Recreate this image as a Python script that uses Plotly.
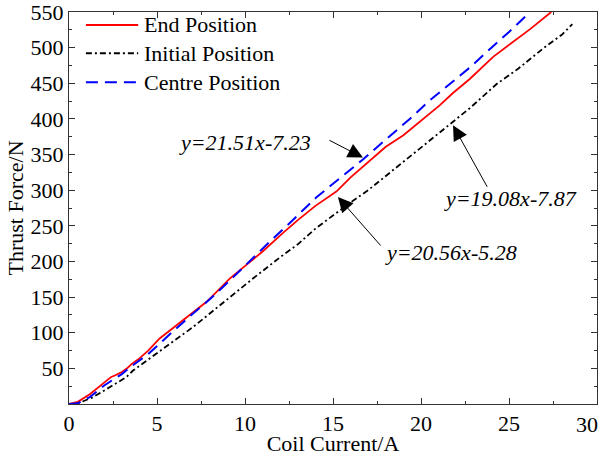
import plotly.graph_objects as go

# ---- data ----
end_x = [0, 0.5, 1.2, 2.0, 2.4, 2.6, 3.0, 3.3, 3.55, 4.0, 4.5, 5.15, 6.1, 7.05, 7.8, 8.5, 9.13,
         10.27, 11.0, 12.16, 13.0, 14.0, 15.19, 16.0, 17.27, 18.0, 19.0, 19.74, 20.5, 21.06,
         21.8, 22.77, 24.1, 25.2, 26.2, 27.4]
end_y = [0, 3, 14, 30, 38, 40, 45, 50, 56, 64, 75, 92, 110, 129, 143, 160, 176,
         199, 214, 240, 258, 278, 298, 318, 345, 361, 377, 392, 407, 419,
         436, 456, 487, 507, 526, 550]

init_x = [0, 0.42, 1.36, 2.31, 3.26, 3.64, 4.97, 6.0, 7.05, 8.0, 8.94, 10.45, 12.0, 13.0, 14.0,
          15.95, 17.0, 18.0, 19.0, 20.0, 21.0, 21.73, 22.77, 24.3, 25.5, 26.2, 27.0, 28.0, 28.6]
init_y = [0, 0, 9.5, 23.6, 37.7, 47, 70.5, 89, 108, 127, 146, 176, 206, 224, 246,
          282, 300, 320, 340, 360, 380, 395, 415, 449, 470, 484, 500, 518, 533]

cent_x = [0, 0.5, 1.2, 2.0, 3.0, 3.55, 4.5, 5.15, 6.0, 7.0, 8.0, 9.0, 10.27, 11.5, 12.5, 14.06,
          15.0, 16.7, 18.0, 19.36, 20.5, 22.0, 22.77, 24.0, 25.0, 26.2]
cent_y = [0, 1, 10, 26, 42, 53, 70, 85, 104, 126, 147, 170, 201, 230, 253, 290,
          309, 343, 371, 400, 426, 457, 472, 500, 522, 550]

x_ticks = [0, 5, 10, 15, 20, 25, 30]
y_ticks = [50, 100, 150, 200, 250, 300, 350, 400, 450, 500, 550]

FONT = "Liberation Serif, Times New Roman, serif"

fig = go.Figure()
fig.add_trace(go.Scatter(x=end_x, y=end_y, mode="lines", name="End Position",
                         line=dict(color="#ff0000", width=1.8), showlegend=False))
fig.add_trace(go.Scatter(x=init_x, y=init_y, mode="lines", name="Initial Position",
                         line=dict(color="#000000", width=1.8, dash="6px,3px,2px,3px"),
                         showlegend=False))
fig.add_trace(go.Scatter(x=cent_x, y=cent_y, mode="lines", name="Centre Position",
                         line=dict(color="#0000ff", width=2, dash="12px,7px"),
                         showlegend=False))

# manual legend (paper coords inside plot area)
leg = [("End Position", "#ff0000", "solid", 0.967),
       ("Initial Position", "#000000", "6px,3px,2px,3px", 0.895),
       ("Centre Position", "#0000ff", "12px,7px", 0.821)]
for name, col, dash, yp in leg:
    fig.add_shape(type="line", xref="paper", yref="paper", x0=0.032, x1=0.131, y0=yp, y1=yp,
                  line=dict(color=col, width=2, dash=dash))
    fig.add_annotation(xref="paper", yref="paper", x=0.139, y=yp, text=name, showarrow=False,
                       xanchor="left", yanchor="middle", font=dict(family=FONT, size=22, color="black"))

# equation labels and arrows
eqs = [
    ("y=21.51x-7.23", 10.0, 367, 16.7, 345.8, -35, -18),
    ("y=20.56x-5.28", 21.7, 213, 15.28, 290.4, 44, 50),
    ("y=19.08x-7.87", 25.1, 289, 21.82, 391, 35, 63),
]
for txt, tx, ty, hx, hy, ax, ay in eqs:
    fig.add_annotation(x=tx, y=ty, text="<i>" + txt + "</i>", showarrow=False,
                       font=dict(family=FONT, size=22, color="black"))
    fig.add_annotation(x=hx, y=hy, ax=ax, ay=ay, text="", showarrow=True,
                       arrowhead=2, arrowsize=3, arrowwidth=1, arrowcolor="black")

# last x tick label is shifted inward so it stays inside the figure (as in the reference)
x_text = [str(v) for v in x_ticks]
fig.add_annotation(xref="paper", yref="paper", x=1.0055, y=0, yshift=-6, text=x_text[-1],
                   showarrow=False, xanchor="right", yanchor="top",
                   font=dict(family=FONT, size=22, color="black"))
x_text[-1] = ""

axis_common = dict(showline=True, linecolor="#333", linewidth=1, mirror="ticks",
                   ticks="inside", ticklen=6, tickcolor="#333", showgrid=False, zeroline=False,
                   ticklabeloverflow="allow", automargin=False,
                   tickfont=dict(family=FONT, size=22, color="black"))
fig.update_xaxes(range=[0, 30], tickvals=x_ticks, ticktext=x_text,
                 minor=dict(dtick=2.5, ticks="inside", ticklen=3, tickcolor="#333"),
                 title=dict(text="Coil Current/A", font=dict(family=FONT, size=22, color="black"),
                            standoff=8),
                 **axis_common)
fig.update_yaxes(range=[0, 550], tickvals=y_ticks, ticktext=[str(v) for v in y_ticks],
                 minor=dict(dtick=25, ticks="inside", ticklen=3, tickcolor="#333"),
                 title=dict(text="Thrust Force/N", font=dict(family=FONT, size=22, color="black"),
                            standoff=0),
                 **axis_common)

fig.update_layout(width=601, height=456, margin=dict(l=69, r=4, t=12, b=52),
                  plot_bgcolor="white", paper_bgcolor="white", showlegend=False)

fig.write_html("out.html")
